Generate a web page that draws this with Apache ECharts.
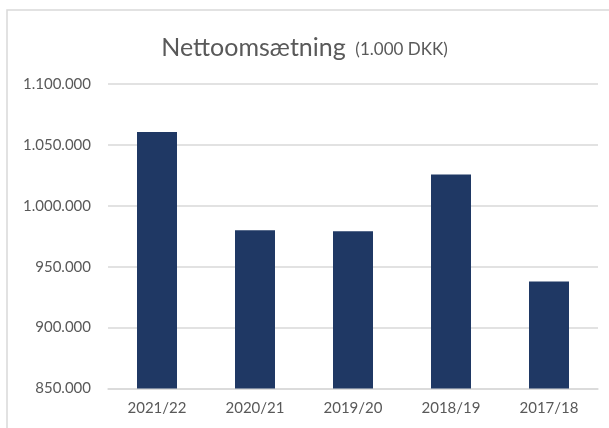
<!DOCTYPE html>
<html>
<head>
<meta charset="utf-8">
<script src="https://cdn.jsdelivr.net/npm/echarts@6/dist/echarts.min.js"></script>
<style>
  html, body { margin: 0; padding: 0; background: #fff; }
  #chart { width: 609px; height: 428px; }
</style>
</head>
<body>
<div id="chart"></div>
<script>
    // kategorier og værdier (1.000 DKK)
    var years = ['2021/22', '2020/21', '2019/20', '2018/19', '2017/18'];
    var revenue = [1060500, 980000, 979200, 1025800, 937800];
    var yTicks = [850000, 900000, 950000, 1000000, 1050000, 1100000];

    var textGray = '#595959';
    var gridGray = '#d9d9d9';
    var fontName = 'Lato, "Open Sans", sans-serif';

    // formater tal som "1.100.000"
    function formatDK(v) {
        return String(v).replace(/\B(?=(\d{3})+(?!\d))/g, '.');
    }

    var myChart = echarts.init(document.getElementById('chart'));

    myChart.setOption({
        animation: false,
        textStyle: { fontFamily: fontName },
        title: {
            text: '{a|Nettoomsætning} {b|(1.000 DKK)}',
            left: 'center',
            top: 30,
            textStyle: {
                fontWeight: 'normal',
                rich: {
                    a: { fontSize: 25, color: textGray, fontFamily: fontName, fontWeight: 'normal' },
                    b: { fontSize: 17, color: textGray, fontFamily: fontName, fontWeight: 'normal', padding: [5, 0, 0, 5] }
                }
            }
        },
        graphic: [{
            type: 'rect',
            shape: { x: 7, y: 10, width: 640, height: 460 },
            style: { fill: 'none', stroke: '#d9d9d9', lineWidth: 1.5 },
            silent: true
        }],
        grid: { left: 108, right: 11, top: 84, bottom: 39.5 },
        xAxis: {
            type: 'category',
            data: years,
            axisLine: { lineStyle: { color: gridGray, width: 1.5 } },
            axisTick: { show: false },
            axisLabel: { color: textGray, fontSize: 15, margin: 12 }
        },
        yAxis: {
            type: 'value',
            min: yTicks[0],
            max: yTicks[yTicks.length - 1],
            interval: yTicks[1] - yTicks[0],
            axisLine: { show: false },
            axisTick: { show: false },
            splitLine: { lineStyle: { color: gridGray, width: 1.5 } },
            axisLabel: {
                color: textGray,
                fontSize: 15,
                margin: 17,
                formatter: formatDK
            }
        },
        series: [{
            type: 'bar',
            data: revenue,
            barWidth: 40,
            itemStyle: { color: '#1f3864' }
        }]
    });
</script>
</body>
</html>
